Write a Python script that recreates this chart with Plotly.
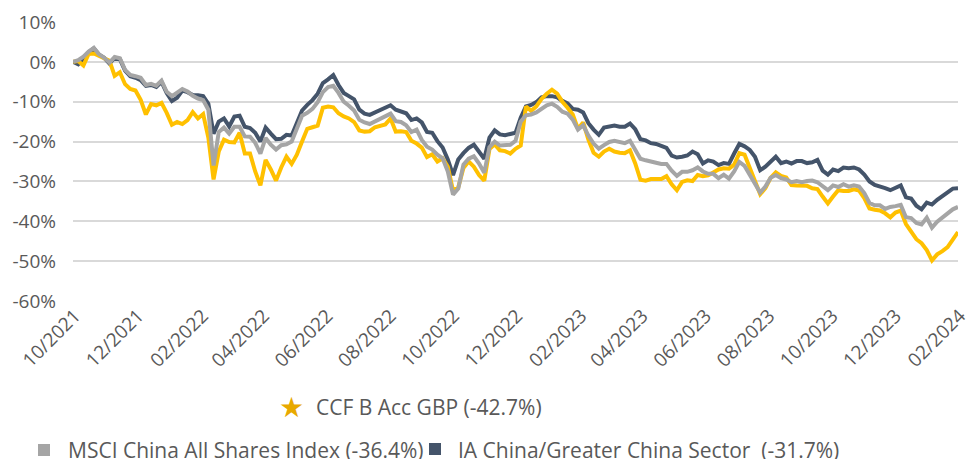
import pandas as pd
import plotly.graph_objects as go

# ---- data (cumulative performance, %) ----
start_date = "2021-10-01"
end_date = "2024-02-01"

ccf = [0, 0.2, -0.9, 2.0, 2.1, 1.5, 1.0, 0.3, -3.5, -2.6,
       -5.6, -6.8, -7.2, -9.5, -13.2, -10.6, -10.9, -10.3, -12.8, -15.8,
       -15.1, -15.6, -14.6, -12.6, -14.2, -13.1, -19.0, -29.5, -22.5, -19.5,
       -20.1, -20.2, -17.8, -23.0, -23.0, -27.5, -31.0, -24.6, -27.0, -29.8,
       -26.5, -23.8, -25.6, -23.3, -20.0, -16.8, -16.4, -16.0, -11.5, -11.2,
       -11.4, -12.9, -13.7, -14.2, -15.1, -17.2, -17.5, -17.4, -16.4, -16.1,
       -15.7, -14.2, -17.5, -17.4, -17.6, -19.8, -20.5, -21.5, -23.9, -23.2,
       -25.0, -24.2, -26.3, -32.3, -31.5, -26.6, -25.0, -26.3, -28.4, -29.8,
       -21.9, -20.7, -22.2, -22.4, -23.0, -21.8, -21.0, -11.2, -12.3, -11.2,
       -9.3, -8.0, -7.0, -8.0, -10.0, -11.5, -13.2, -16.8, -15.2, -19.5,
       -22.8, -23.8, -22.5, -21.8, -22.5, -22.8, -22.9, -22.2, -25.5, -29.6,
       -29.8, -29.4, -29.3, -29.4, -28.7, -30.7, -32.2, -30.1, -29.7, -29.9,
       -28.4, -28.7, -28.5, -27.7, -27.0, -26.7, -26.8, -25.8, -22.9, -23.3,
       -26.5, -29.9, -33.2, -31.7, -29.1, -27.7, -28.6, -29.0, -30.9, -31.0,
       -31.1, -31.1, -31.7, -31.9, -33.8, -35.5, -33.8, -32.2, -32.4, -32.4,
       -32.0, -32.3, -34.2, -36.8, -37.1, -37.3, -38.0, -39.0, -37.8, -37.3,
       -40.7, -42.4, -44.5, -45.5, -47.2, -49.8, -48.3, -47.5, -46.5, -44.6,
       -42.7]

msci = [0, 0.4, 1.3, 2.6, 3.5, 1.9, 1.0, -0.2, 1.2, 0.9,
        -2.0, -3.3, -3.6, -4.0, -5.8, -5.5, -6.0, -4.7, -7.5, -8.6,
        -7.7, -6.8, -7.4, -8.5, -9.2, -9.6, -12.0, -26.0, -17.6, -16.5,
        -18.0, -16.3, -16.3, -18.7, -18.8, -20.3, -23.0, -19.1, -20.8, -22.0,
        -20.9, -20.7, -20.0, -16.8, -13.5, -12.8, -11.8, -10.1, -7.6, -6.3,
        -6.0, -7.8, -10.0, -11.0, -12.2, -14.5, -15.2, -15.6, -15.0, -14.4,
        -13.7, -13.0, -14.9, -15.1, -15.9, -17.6, -17.0, -19.6, -21.3, -22.0,
        -23.3, -24.2, -27.5, -33.3, -31.8, -25.8, -24.3, -23.7, -25.5, -27.8,
        -21.4, -20.0, -21.0, -20.9, -20.8, -19.8, -15.0, -13.4, -13.2, -12.7,
        -11.8, -10.9, -10.5, -11.3, -12.5, -13.0, -14.5, -17.0, -15.9, -18.5,
        -20.5, -21.8, -20.9, -20.1, -19.8, -20.0, -20.4, -19.8, -22.0, -24.3,
        -24.7, -25.1, -25.3, -25.6, -25.6, -27.3, -28.6, -27.6, -27.6, -27.2,
        -26.5, -27.5, -28.1, -28.1, -29.2, -28.3, -29.3, -27.5, -25.1, -26.1,
        -28.3, -30.5, -32.8, -31.3, -29.1, -28.4, -29.2, -29.5, -30.2, -29.9,
        -30.2, -29.9, -29.8, -30.2, -31.3, -32.2, -31.0, -31.4, -30.7, -31.3,
        -31.0, -31.3, -32.9, -35.4, -36.0, -36.0, -36.9, -36.4, -36.2, -35.9,
        -39.0, -39.2, -40.4, -40.8, -39.1, -41.6, -40.1, -39.1, -38.3, -37.0,
        -36.4]

ia = [0, -0.6, 0.8, 2.4, 3.4, 1.8, 1.0, -0.4, 1.0, 0.7,
      -2.2, -3.6, -4.0, -4.6, -6.0, -5.8, -6.3, -5.0, -7.8, -9.8,
      -9.0, -7.2, -7.6, -8.3, -8.4, -8.6, -10.5, -18.0, -15.0, -14.2,
      -16.2, -13.7, -13.5, -16.3, -16.6, -17.8, -20.0, -16.5, -18.0, -19.4,
      -19.3, -18.3, -18.5, -15.0, -12.2, -10.8, -9.6, -8.0, -5.3, -4.4,
      -3.3, -5.8, -7.8, -8.6, -9.4, -12.0, -13.0, -13.3, -12.7, -12.0,
      -11.3, -10.9, -12.0, -12.5, -12.9, -14.6, -14.2, -15.2, -17.6, -17.8,
      -19.9, -21.5, -24.5, -28.4, -24.5, -22.9, -21.6, -20.8, -22.6, -24.3,
      -19.0, -17.2, -18.2, -18.4, -18.1, -17.8, -14.0, -11.2, -10.8, -10.1,
      -8.9, -8.6, -8.6, -8.9, -9.8, -10.4, -11.8, -12.0, -12.7, -15.4,
      -17.0, -18.3, -16.5, -16.3, -16.0, -16.3, -16.3, -15.5, -16.9, -19.4,
      -19.7, -20.4, -20.6, -21.1, -21.6, -23.5, -24.0, -23.8, -23.5, -22.5,
      -23.2, -25.5, -24.7, -25.0, -25.9, -25.4, -25.6, -23.0, -20.6, -21.2,
      -22.1, -23.8, -27.2, -26.3, -25.1, -23.8, -25.4, -25.0, -25.5, -24.9,
      -24.9, -25.4, -25.2, -24.6, -27.3, -28.3, -27.0, -27.4, -26.5, -26.7,
      -26.5, -27.0, -28.3, -30.0, -30.9, -31.2, -31.7, -32.2, -31.6, -31.0,
      -34.0, -34.3, -36.1, -37.0, -35.3, -35.8, -34.6, -33.7, -33.0, -31.8,
      -31.7]

series_names = ["CCF B Acc GBP (-42.7%)",
                "MSCI China All Shares Index (-36.4%)",
                "IA China/Greater China Sector\u00a0\u00a0(-31.7%)"]

x_tick_dates = ["2021-10-01", "2021-12-01", "2022-02-01", "2022-04-01", "2022-06-01",
                "2022-08-01", "2022-10-01", "2022-12-01", "2023-02-01", "2023-04-01",
                "2023-06-01", "2023-08-01", "2023-10-01", "2023-12-01", "2024-02-01"]
x_tick_labels = ["10/2021", "12/2021", "02/2022", "04/2022", "06/2022",
                 "08/2022", "10/2022", "12/2022", "02/2023", "04/2023",
                 "06/2023", "08/2023", "10/2023", "12/2023", "02/2024"]
y_tick_vals = [10, 0, -10, -20, -30, -40, -50, -60]
y_tick_labels = ["10%", "0%", "-10%", "-20%", "-30%", "-40%", "-50%", "-60%"]

dates = pd.date_range(start_date, end_date, periods=len(ccf))

# ---- style ----
C_CCF = "#FFC000"
C_MSCI = "#A5A5A5"
C_IA = "#44546A"
C_STAR = "#E8A900"
TXT = "#595959"
FONT = "Open Sans"

OFF = 8  # page body margin
W, H = 975 - OFF, 459 - OFF
ML, MR, MT, MB = 65, 17, 14, 158
PW, PH = W - ML - MR, H - MT - MB


def px(xpage):
    return (xpage - OFF - ML) / PW


def py(ypage):
    return (H - MB - (ypage - OFF)) / PH


fig = go.Figure()
fig.add_trace(go.Scatter(x=dates, y=ia, mode="lines", name=series_names[2],
                         line=dict(color=C_IA, width=4)))
fig.add_trace(go.Scatter(x=dates, y=ccf, mode="lines", name=series_names[0],
                         line=dict(color=C_CCF, width=4)))
fig.add_trace(go.Scatter(x=dates, y=msci, mode="lines", name=series_names[1],
                         line=dict(color=C_MSCI, width=4)))

fig.update_layout(
    width=W, height=H,
    margin=dict(l=ML, r=MR, t=MT, b=MB, autoexpand=False),
    paper_bgcolor="white", plot_bgcolor="white",
    showlegend=False,
    font=dict(family=FONT, color=TXT, size=19),
)
fig.update_xaxes(
    type="date", range=[start_date, end_date], automargin=False,
    tickvals=x_tick_dates, ticktext=x_tick_labels,
    tickangle=-45, showgrid=False, zeroline=False, showline=False,
    ticks="", tickfont=dict(family=FONT, size=19, color=TXT),
    ticklabelstandoff=-1, ticklabelshift=2,
)
fig.update_yaxes(
    range=[-60, 10], tickvals=y_tick_vals, ticktext=y_tick_labels, automargin=False,
    showgrid=True, gridcolor="#D9D9D9", gridwidth=2,
    zeroline=False, showline=False, ticks="",
    tickfont=dict(family=FONT, size=19, color=TXT),
    ticklabelstandoff=16,
)

# ---- custom legend ----
annos = [
    dict(x=px(291), y=py(407), text="\u2605", font=dict(size=28, color=C_STAR, family="DejaVu Sans"),
         xanchor="center", yanchor="middle"),
    dict(x=px(314), y=py(407), text=series_names[0], font=dict(size=21, color=TXT, family=FONT),
         xanchor="left", yanchor="middle"),
    dict(x=px(66), y=py(450), text=series_names[1], font=dict(size=21, color=TXT, family=FONT),
         xanchor="left", yanchor="middle"),
    dict(x=px(456), y=py(450), text=series_names[2], font=dict(size=21, color=TXT, family=FONT),
         xanchor="left", yanchor="middle"),
]
for a in annos:
    a.update(xref="paper", yref="paper", showarrow=False)
fig.update_layout(annotations=annos)

shapes = [
    dict(type="rect", x0=px(38), x1=px(50), y0=py(456), y1=py(444), fillcolor=C_MSCI, line=dict(width=0)),
    dict(type="rect", x0=px(429), x1=px(441), y0=py(455), y1=py(443), fillcolor=C_IA, line=dict(width=0)),
]
for s in shapes:
    s.update(xref="paper", yref="paper")
fig.update_layout(shapes=shapes)

fig.write_html("out.html")
